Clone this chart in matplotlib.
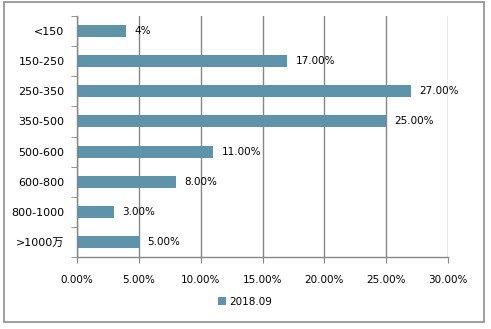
import matplotlib
matplotlib.use('Agg')
import matplotlib.pyplot as plt
from matplotlib.patches import Rectangle
from matplotlib.ticker import FixedLocator, PercentFormatter

plt.rcParams['font.family'] = ['DejaVu Sans', 'Noto Sans CJK SC']

# data
categories = ['<150', '150-250', '250-350', '350-500', '500-600', '600-800', '800-1000', '>1000万']
values = [4, 17, 27, 25, 11, 8, 3, 5]
value_labels = ['4%', '17.00%', '27.00%', '25.00%', '11.00%', '8.00%', '3.00%', '5.00%']
series_name = '2018.09'
xticks = [0, 5, 10, 15, 20, 25, 30]

bar_color = '#5F93A9'
grid_color = '#878787'

W, H = 491, 329
fig = plt.figure(figsize=(W / 100, H / 100), dpi=100)

# outer chart border
fig.patches.append(Rectangle((4 / W, 1 - 322 / H), 480 / W, 320 / H,
                             transform=fig.transFigure, fill=False,
                             edgecolor='#8C8C8C', linewidth=1.2))

ax = fig.add_axes([77 / W, 1 - 257 / H, 371 / W, 241 / H])

ypos = list(range(len(categories)))
ax.barh(ypos, values, height=0.4, color=bar_color, label=series_name, zorder=3)
for y, v, lab in zip(ypos, values, value_labels):
    ax.annotate(lab, (v, y), xytext=(6, 0), textcoords='offset points',
                va='center', ha='left', fontsize=7.5)

ax.set_xlim(0, 30)
ax.set_ylim(len(categories) - 0.5, -0.5)
ax.set_xticks(xticks)
ax.xaxis.set_major_formatter(PercentFormatter(decimals=2))
ax.set_yticks(ypos)
ax.set_yticklabels(categories)
ax.yaxis.set_minor_locator(FixedLocator([i - 0.5 for i in range(len(categories) + 1)]))
ax.tick_params(axis='y', which='major', length=0, pad=9, labelsize=8)
ax.tick_params(axis='y', which='minor', length=4, color=grid_color)
ax.tick_params(axis='x', length=4, color=grid_color, pad=9, labelsize=7.5)

ax.grid(axis='x', color=grid_color, linewidth=1, zorder=0)
for s in ['top', 'right']:
    ax.spines[s].set_visible(False)
for s in ['left', 'bottom']:
    ax.spines[s].set_color(grid_color)
    ax.spines[s].set_linewidth(1)

leg = fig.legend(loc='center', bbox_to_anchor=(245 / W, 1 - 302 / H), frameon=False,
                 fontsize=7.5, handlelength=0.8, handleheight=0.8, handletextpad=0.3)

plt.savefig('out.png', dpi=100)
